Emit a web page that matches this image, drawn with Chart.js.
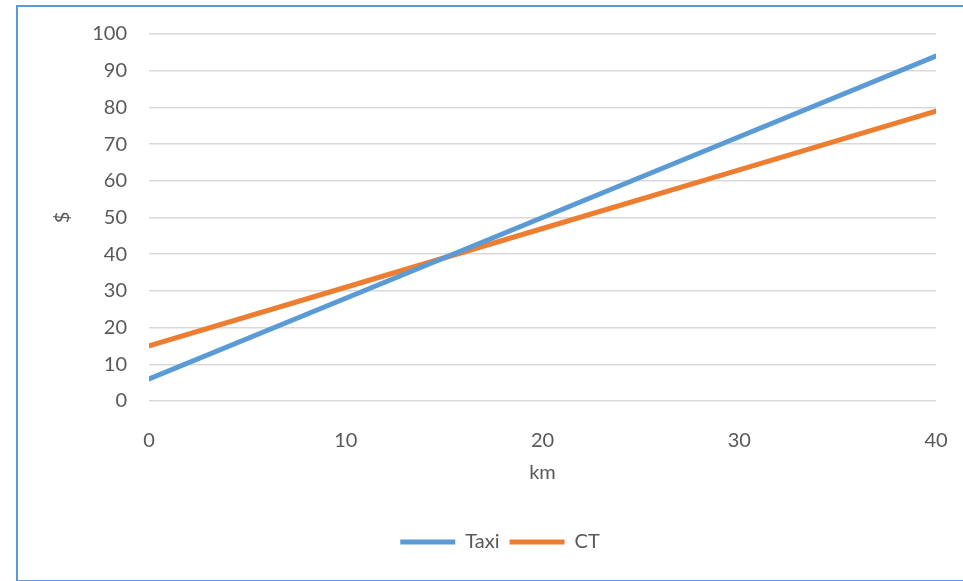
<!DOCTYPE html>
<html>
<head>
<meta charset="utf-8">
<script src="https://cdn.jsdelivr.net/npm/chart.js@4.4.1/dist/chart.umd.min.js"></script>
<style>
  body { margin: 0; background: #fff; overflow: hidden; }
  #frame {
    position: absolute; left: 16px; top: 5px;
    width: 1000px; height: 573px;
    border: 2px solid #5b9bd5;
  }
  #wrap { position: absolute; left: 0; top: 0; width: 963px; height: 581px; }
</style>
</head>
<body>
<div id="frame"></div>
<div id="wrap"><canvas id="grafico"></canvas></div>
<script>
// valores
const km = [0, 10, 20, 30, 40];
const taxi = [6, 28, 50, 72, 94];
const ct = [15, 31, 47, 63, 79];
const yTicks = [0, 10, 20, 30, 40, 50, 60, 70, 80, 90, 100];

const fonte = "Lato, 'Open Sans', sans-serif";
const corTexto = '#595959';

function pontos(valores) {
  return km.map((x, i) => ({ x: x, y: valores[i] }));
}

// legenda fica um pouco à direita do centro, como no original
const moverLegenda = {
  id: 'moverLegenda',
  afterLayout(chart) {
    if (chart.legend) chart.legend.left += 64;
  }
};

const ctx = document.getElementById('grafico').getContext('2d');
new Chart(ctx, {
  type: 'line',
  data: {
    datasets: [
      {
        label: 'Taxi',
        data: pontos(taxi),
        borderColor: '#5b9bd5',
        backgroundColor: '#5b9bd5',
        borderWidth: 5,
        borderCapStyle: 'round',
        pointRadius: 0,
        pointStyle: 'line'
      },
      {
        label: 'CT',
        data: pontos(ct),
        borderColor: '#ed7d31',
        backgroundColor: '#ed7d31',
        borderWidth: 5,
        borderCapStyle: 'round',
        pointRadius: 0,
        pointStyle: 'line'
      }
    ]
  },
  plugins: [moverLegenda],
  options: {
    responsive: true,
    maintainAspectRatio: false,
    animation: false,
    layout: { padding: { top: 34, right: 27, bottom: 19, left: 0 } },
    plugins: {
      tooltip: { enabled: false },
      legend: {
        position: 'bottom',
        labels: {
          usePointStyle: true,
          pointStyleWidth: 55,
          padding: 10,
          color: corTexto,
          font: { family: fonte, size: 20 }
        }
      }
    },
    scales: {
      x: {
        type: 'linear',
        min: 0,
        max: 40,
        grid: { display: false },
        border: { display: false },
        ticks: { stepSize: 10, padding: 20, color: corTexto, font: { family: fonte, size: 20 } },
        title: { display: true, text: 'km', color: corTexto, font: { family: fonte, size: 20 }, padding: { top: 0, bottom: 37 } },
        afterFit: (scale) => {
          scale.height = 121;
          scale.paddingLeft = 0;
          scale.paddingRight = 0;
        }
      },
      y: {
        min: 0,
        max: 100,
        grid: { color: '#d9d9d9', lineWidth: 1.5, drawTicks: false },
        border: { display: false },
        afterBuildTicks: (scale) => { scale.ticks = yTicks.map(v => ({ value: v })); },
        ticks: { padding: 22, color: corTexto, font: { family: fonte, size: 20 } },
        title: { display: true, text: '$', color: corTexto, font: { family: fonte, size: 20 }, padding: { top: 51, bottom: 0 } },
        afterFit: (scale) => {
          scale.width = 149;
          scale.paddingTop = 0;
          scale.paddingBottom = 0;
        }
      }
    }
  }
});
</script>
</body>
</html>
